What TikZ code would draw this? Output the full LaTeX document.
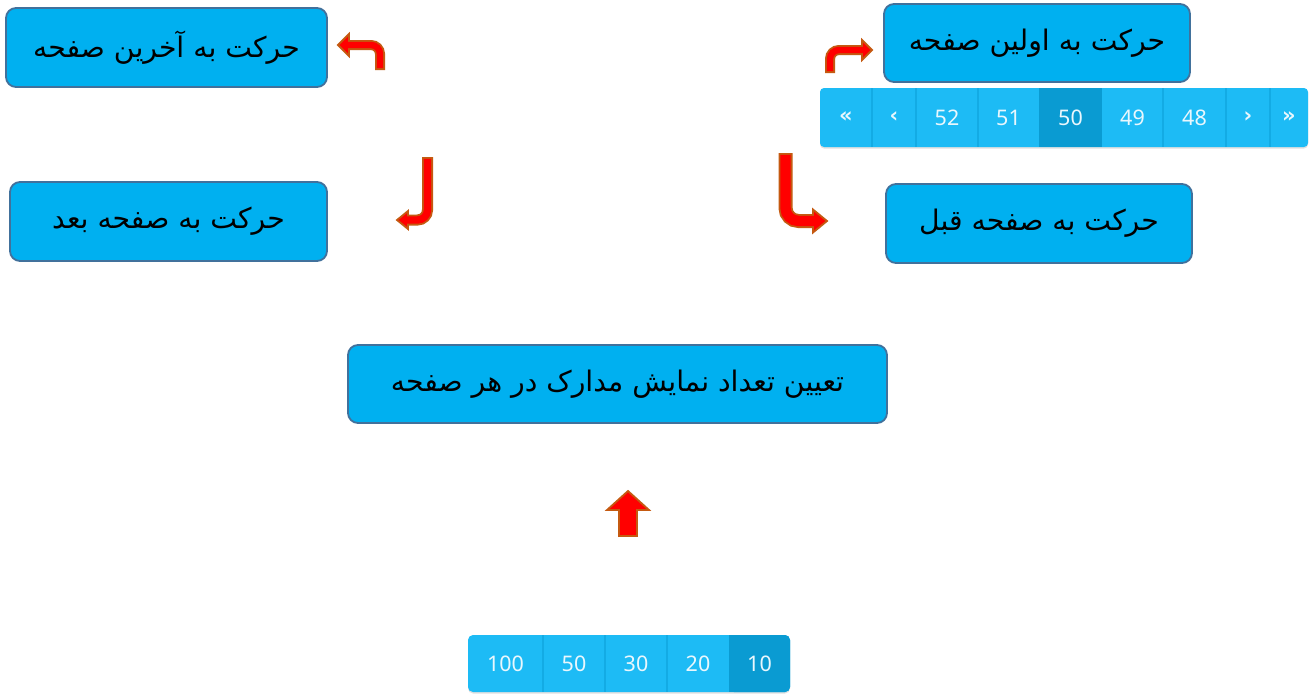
\documentclass[tikz,border=0pt]{standalone}
\usepackage{fontspec}
\TeXXeTstate=1
\newfontfamily\arabicfont[Script=Arabic]{DejaVu Sans}
\newfontfamily\uifont{Noto Sans}
\newfontfamily\chevfont{DejaVu Sans}
\definecolor{boxfill}{HTML}{00B0F0}
\definecolor{boxline}{HTML}{41719C}
\definecolor{arrred}{HTML}{FF0000}
\definecolor{arrline}{HTML}{C55A11}
\definecolor{barlight}{HTML}{1DBBF5}
\definecolor{bardark}{HTML}{0A9BD2}
\definecolor{barsep}{HTML}{13ABE4}
\definecolor{bartext}{HTML}{E9F7FD}
\tikzset{
  infobox/.style={draw=boxline, fill=boxfill, line width=1.8pt, rounded corners=10pt,
    inner sep=0pt, font=\arabicfont\fontsize{28.3}{32}\selectfont},
  headshape/.style={fill=arrred, draw=arrline, line width=1.8pt, line join=miter},
  shaftout/.style={draw=arrline, line cap=butt},
  shaftin/.style={draw=arrred, line cap=butt},
  cellnum/.style={text=bartext, font=\uifont\fontsize{21.5}{24}\selectfont, inner sep=0pt},
  cellchev/.style={text=bartext, font=\chevfont\bfseries\fontsize{21}{24}\selectfont, inner sep=0pt},
}
\begin{document}
\begin{tikzpicture}[x=1pt,y=-1pt]
\useasboundingbox (0,0) rectangle (1316,694);
\fill[white] (0,0) rectangle (1316,694);

% boxes
\node[infobox, minimum width=321pt, minimum height=79pt] (last) at (166.5,47.5) {\beginR حرکت به آخرین صفحه\endR};
\node[infobox, minimum width=306pt, minimum height=78pt] (first) at (1037,43) {\beginR حرکت به اولین صفحه\endR};
\node[infobox, minimum width=317pt, minimum height=79pt] (next) at (168.5,221.5) {\beginR حرکت به صفحه بعد\endR};
\node[infobox, minimum width=306pt, minimum height=79pt] (prev) at (1039,223.5) {\beginR حرکت به صفحه قبل\endR};
\node[infobox, minimum width=539pt, minimum height=78pt] (count) at (617.5,384) {\beginR تعیین تعداد نمایش مدارک در هر صفحه\endR};

% arrow 1 (to last)
\draw[shaftout, line width=10pt, rounded corners=9pt] (380,70) -- (380,45) -- (349,45);
\draw[headshape] (349,34) -- (338,45) -- (349,56) -- cycle;
\draw[shaftin, line width=6.4pt, rounded corners=9pt] (380,68.2) -- (380,45) -- (347,45);

% arrow 2 (to first)
\draw[shaftout, line width=10pt, rounded corners=9pt] (830,73) -- (830,50) -- (862,50);
\draw[headshape] (862,40) -- (872,50) -- (862,60) -- cycle;
\draw[shaftin, line width=6.4pt, rounded corners=9pt] (830,71.2) -- (830,50) -- (864,50);

% arrow 3 (to next)
\draw[shaftout, line width=11pt, rounded corners=10pt] (427.5,157) -- (427.5,220) -- (408,220);
\draw[headshape] (408,211) -- (397,220) -- (408,229) -- cycle;
\draw[shaftin, line width=7.4pt, rounded corners=10pt] (427.5,158.8) -- (427.5,220) -- (406,220);

% arrow 4 (to prev)
\draw[shaftout, line width=14pt, rounded corners=13pt] (785.5,153) -- (785.5,221) -- (813,221);
\draw[headshape] (813,209.5) -- (827,221) -- (813,232.5) -- cycle;
\draw[shaftin, line width=10.4pt, rounded corners=13pt] (785.5,154.8) -- (785.5,221) -- (815,221);

% arrow 5 (up)
\draw[shaftout, line width=20pt] (628,537) -- (628,510);
\draw[headshape] (607,510) -- (628,491) -- (649,510) -- cycle;
\draw[shaftin, line width=16.4pt] (628,535.2) -- (628,508);

% top pagination bar
\fill[black!12, rounded corners=4pt] (820,89.5) rectangle (1308,148.5);
\fill[barlight, rounded corners=4pt] (820,88) rectangle (1308,147);
\fill[bardark] (1039,88) rectangle (1102,147);
\foreach \xx in {872,916,978,1163,1226,1270}
  \draw[barsep, line width=1.2pt] (\xx,88) -- (\xx,147);
\node[cellchev] (pfirst) at (846,117) {«};
\node[cellchev] (pprev) at (894,117) {‹};
\node[cellnum] (p52) at (947,117.5) {52};
\node[cellnum] (p51) at (1008.5,117.5) {51};
\node[cellnum] (p50) at (1070.5,117.5) {50};
\node[cellnum] (p49) at (1132.5,117.5) {49};
\node[cellnum] (p48) at (1194.5,117.5) {48};
\node[cellchev] (pnext) at (1248,117) {›};
\node[cellchev] (plast) at (1289,117) {»};

% bottom page-size bar
\fill[black!12, rounded corners=5pt] (468,636.5) rectangle (790,693.5);
\fill[barlight, rounded corners=5pt] (468,635) rectangle (790,692);
\fill[bardark, rounded corners=5pt] (729,635) rectangle (790,692);
\fill[bardark] (729,635) rectangle (745,692);
\foreach \xx in {543,605,667}
  \draw[barsep, line width=1.2pt] (\xx,635) -- (\xx,692);
\node[cellnum] (s100) at (505.5,663.5) {100};
\node[cellnum] (s50) at (574,663.5) {50};
\node[cellnum] (s30) at (636,663.5) {30};
\node[cellnum] (s20) at (698,663.5) {20};
\node[cellnum] (s10) at (759.5,663.5) {10};
\end{tikzpicture}
\end{document}
